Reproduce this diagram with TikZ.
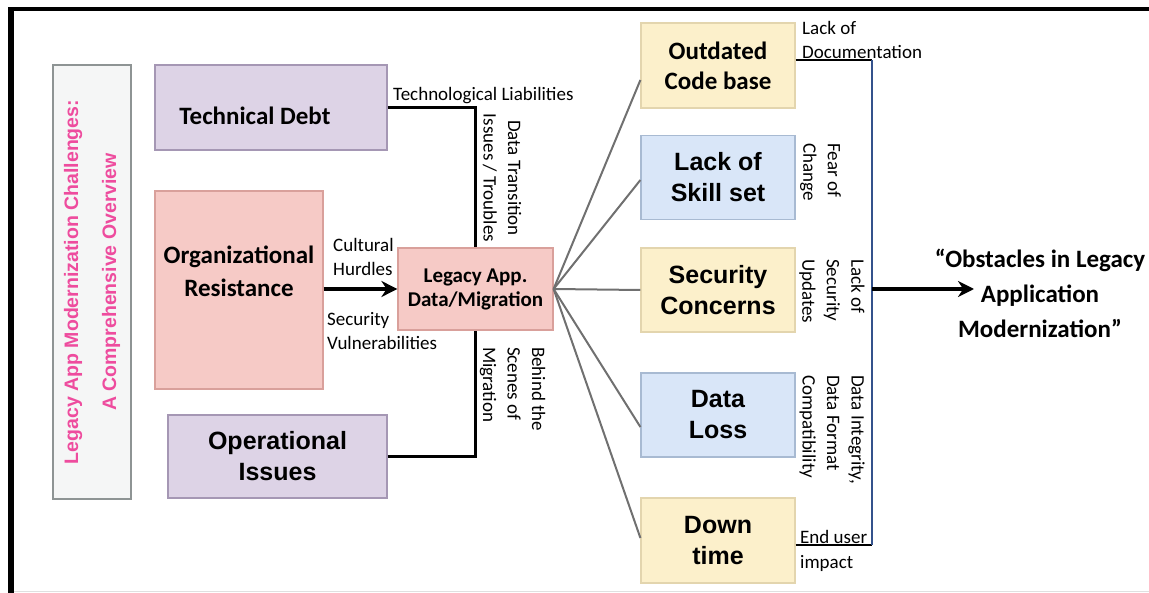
\documentclass[tikz,border=0pt]{standalone}
\usepackage{fontspec}
\setmainfont{Carlito}
\newfontfamily\arialsf{Liberation Sans}
\usepackage{tikz}
\usetikzlibrary{arrows.meta}
\definecolor{mauvefill}{HTML}{DDD3E6}
\definecolor{mauveline}{HTML}{A597B4}
\definecolor{rosefill}{HTML}{F6CAC6}
\definecolor{roseline}{HTML}{D9A09B}
\definecolor{sandfill}{HTML}{FCF0CB}
\definecolor{sandline}{HTML}{E3D5AE}
\definecolor{skyfill}{HTML}{D9E6F8}
\definecolor{skyline}{HTML}{A8BAD2}
\definecolor{slatefill}{HTML}{F5F6F6}
\definecolor{slateline}{HTML}{8E9494}
\definecolor{titlepink}{HTML}{EE4C9E}
\definecolor{busblue}{HTML}{34528C}
\definecolor{fangray}{HTML}{707070}

\begin{document}
\begin{tikzpicture}[
    x=1pt, y=-1pt,
    cbox/.style={draw=#1line, fill=#1fill, line width=1.2pt, align=center, inner sep=0pt},
    calbold/.style={font=\fontsize{25}{#1}\selectfont\bfseries, align=center},
    calbold/.default=30,
    arbold/.style={font=\arialsf\fontsize{25}{31}\selectfont\bfseries},
    lbl/.style={font=\fontsize{19}{24.5}\selectfont, align=left, inner sep=0pt},
    link/.style={line width=2.5pt, black},
    fan/.style={line width=2pt, fangray},
    push/.style={line width=3.5pt, black, -{Stealth[length=16pt, width=16pt]}},
]
    \useasboundingbox (0,0) rectangle (1149,593);

    % frame edges
    \fill (8,7) rectangle (1149,11.5);
    \fill (8,7) rectangle (14,593);
    \draw[black!12, line width=1pt] (14,591.5) -- (1149,591.5);

    % overview title
    \node[cbox=slate, rotate=90, minimum width=434pt, minimum height=78pt,
          font=\arialsf\fontsize{19.5}{38}\selectfont\bfseries, text=titlepink]
        (title) at (92,282) {Legacy App Modernization Challenges:\\A Comprehensive Overview};

    % causes
    \node[cbox=mauve, minimum width=232pt, minimum height=85pt] (debt) at (271,107.5) {};
    \node[calbold] (debttxt) at (255,116) {Technical Debt};
    \node[cbox=rose, minimum width=168pt, minimum height=198pt] (org) at (239,290) {};
    \node[calbold=33] (orgtxt) at (239,271) {Organizational\\Resistance};
    \node[cbox=mauve, arbold, minimum width=219pt, minimum height=83pt] (ops) at (277.5,456.5) {Operational\\Issues};

    % migration hub
    \node[cbox=rose, minimum width=155pt, minimum height=82pt,
          font=\fontsize{21}{24}\selectfont\bfseries] (legacy) at (475.5,289) {Legacy App.\\Data/Migration};

    % obstacles
    \node[cbox=sand, calbold, minimum width=154pt, minimum height=85pt] (ocb) at (718,65.5) {Outdated\\Code base};
    \node[cbox=sky, arbold, minimum width=154pt, minimum height=84pt] (skill) at (718,177.5) {Lack of\\Skill set};
    \node[cbox=sand, arbold, minimum width=154pt, minimum height=84pt] (sec) at (718,290) {Security\\Concerns};
    \node[cbox=sky, arbold, minimum width=154pt, minimum height=84pt] (loss) at (718,415) {Data\\Loss};
    \node[cbox=sand, arbold, minimum width=154pt, minimum height=85pt] (dt) at (718,540.5) {Down\\time};

    \node[calbold=35] (goal) at (1040,293) {“Obstacles in Legacy\\Application\\Modernization”};

    \coordinate (bustop) at (872,60);
    \coordinate (busend) at (872,545);
    \coordinate (hub) at (872,289);
    \coordinate (goalin) at (974,289);

    % inputs to the hub
    \draw[link] (debt.east) -| (legacy.north);
    \draw[link] (ops.east) -| (legacy.south);
    \draw[push] (legacy -| org.east) -- (legacy.west);

    % fan out to the obstacles
    \draw[fan] (legacy.east) -- ([yshift=-14.5pt]ocb.west);
    \draw[fan] (legacy.east) -- ([yshift=-2.5pt]skill.west);
    \draw[fan] (legacy.east) -- (sec.west);
    \draw[fan] (legacy.east) -- ([yshift=-12pt]loss.west);
    \draw[fan] (legacy.east) -- ([yshift=2.5pt]dt.west);

    % collecting bus
    \draw[link] (ocb.east |- bustop) -- (bustop);
    \draw[link] (dt.east |- busend) -- (busend);
    \draw[line width=2.5pt, busblue] (bustop) -- (busend);
    \draw[push] (hub) -- (goalin);

    % connector labels
    \node[lbl, anchor=base west] (liab) at (393,101) {Technological Liabilities};
    \node[lbl, align=center, rotate=-90] (transit) at (502,178) {Data Transition\\Issues / Troubles};
    \node[lbl, anchor=west] (cultural) at (333,257) {Cultural\\Hurdles};
    \node[lbl, anchor=west] (secvul) at (327,331) {Security\\Vulnerabilities};
    \node[lbl, rotate=-90, anchor=west] (behind) at (512.5,347) {Behind the\\Scenes of\\Migration};
    \node[lbl, anchor=west] (docs) at (802,40) {Lack of\\Documentation};
    \node[lbl, rotate=-90, anchor=west] (fear) at (820.5,143) {Fear of\\Change};
    \node[lbl, rotate=-90, anchor=west] (secupd) at (832,259) {Lack of\\Security\\Updates};
    \node[lbl, rotate=-90, anchor=west] (integ) at (832,375) {Data Integrity,\\Data Format\\Compatibility};
    \node[lbl, anchor=west] (enduser) at (800,551) {End user\\impact};
\end{tikzpicture}
\end{document}
